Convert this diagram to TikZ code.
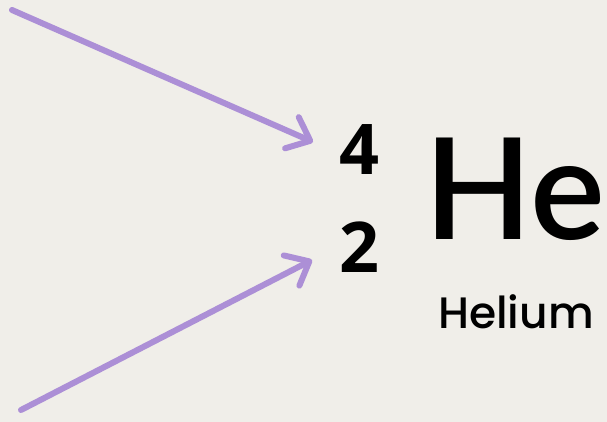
\documentclass[tikz,border=0pt]{standalone}
\usepackage{fontspec}
\setmainfont{Open Sans}
\newfontfamily\elementfont{Poppins Medium}
\newfontfamily\symbolfont{Lato Semibold}
\usepackage{tikz}
\usetikzlibrary{arrows.meta,positioning}
\definecolor{paper}{RGB}{240,238,233}
\definecolor{lilac}{RGB}{172,143,214}

\begin{document}
\begin{tikzpicture}[
    x=1pt, y=-1pt,
    pointer/.style={draw=lilac, line width=6pt, line cap=round,
        -{Straight Barb[length=20pt, width=34pt, round]}},
    nucleon/.style={anchor=base west, inner sep=0pt, font=\fontsize{70}{70}\selectfont\bfseries},
    symbol/.style={anchor=base west, inner sep=0pt, font=\symbolfont\fontsize{141}{141}\selectfont},
    elemname/.style={anchor=base west, inner sep=0pt, font=\elementfont\fontsize{44}{44}\selectfont}]

    % Background
    \fill[paper] (0,0) rectangle (607,422);
    \useasboundingbox (0,0) rectangle (607,422);

    % Isotope notation
    \node[nucleon] (mass) at (339,175) {4};
    \node[nucleon] (atomic) at (339,272) {2};
    \node[symbol] (He) at (424,239) {He};
    \node[elemname] (name) at (438,328) {Helium};

    % Arrows
    \coordinate (top) at (12,10);
    \coordinate (bottom) at (21,410);
    \coordinate (massTip) at (313,142);
    \coordinate (atomicTip) at (312,260);
    \draw[pointer] (top) -- (massTip);
    \draw[pointer] (bottom) -- (atomicTip);
\end{tikzpicture}
\end{document}
